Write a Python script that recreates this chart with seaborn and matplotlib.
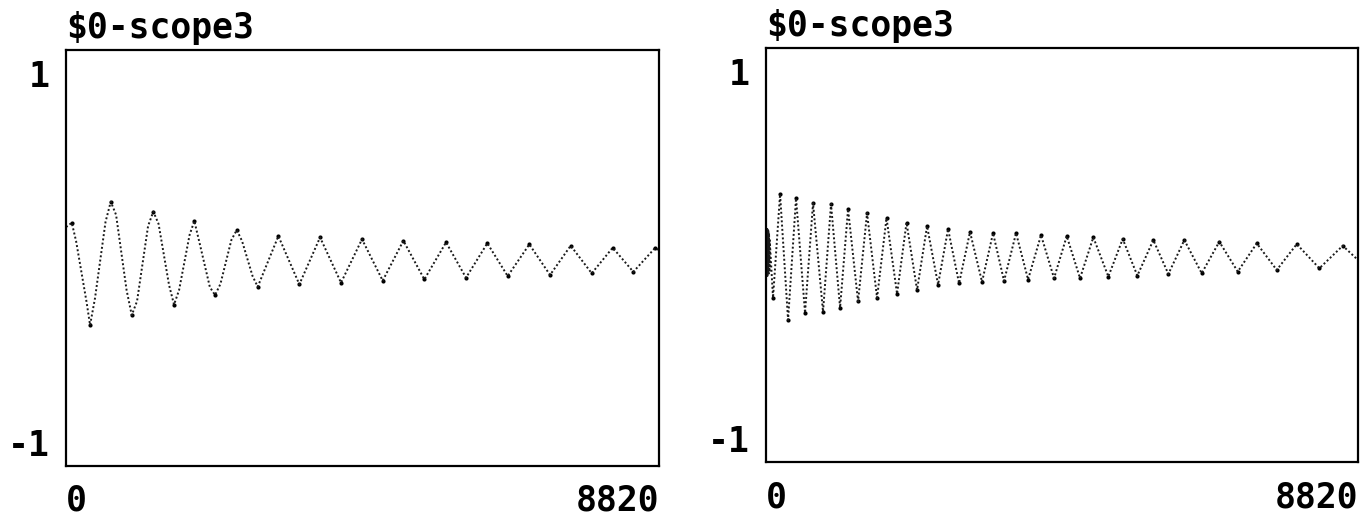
import matplotlib
matplotlib.use("Agg")
import matplotlib.pyplot as plt
import seaborn as sns
import pandas as pd
import numpy as np

# ---- data (trace points of each scope) ----
x_ticks = [0, 8820]
x_tick_labels = ["0", "8820"]
y_ticks = [1, -1]
y_tick_labels = ["1", "-1"]
titles = ["$0-scope3", "$0-scope3"]

left_samples = [0, 85, 149, 305, 357, 431, 587, 665, 744, 900, 977, 1056, 1220,
                1298, 1376, 1532, 1606, 1681, 1837, 1908, 1986, 2139, 2216,
                2296, 2459, 2539, 2618, 2774, 2851, 3158, 3470, 3778, 4090,
                4402, 4710, 5017, 5329, 5652, 5949, 6266, 6569, 6891, 7199,
                7506, 7819, 8131, 8438, 8760, 8820]
left_amps = [0.167, 0.19, 0.091, -0.240, -0.365, -0.218, 0.195, 0.305, 0.233,
             -0.175, -0.311, -0.235, 0.173, 0.251, 0.184, -0.148, -0.254,
             -0.175, 0.124, 0.200, 0.080, -0.159, -0.202, -0.142, 0.097,
             0.151, 0.091, -0.099, -0.157, 0.118, -0.144, 0.111, -0.135,
             0.101, -0.124, 0.093, -0.117, 0.084, -0.108, 0.079, -0.099,
             0.073, -0.093, 0.066, -0.084, 0.055, -0.076, 0.053, 0.042]

right_samples = [0, 5, 10, 15, 20, 25, 30, 35, 40, 45, 50, 55, 104, 209, 328,
                 447, 581, 700, 849, 968, 1103, 1222, 1371, 1505, 1654, 1795,
                 1952, 2093, 2250, 2399, 2563, 2712, 2876, 3039, 3218, 3382,
                 3546, 3725, 3904, 4097, 4291, 4480, 4678, 4876, 5100, 5314,
                 5532, 5770, 5994, 6232, 6491, 6753, 7028, 7311, 7609, 7907,
                 8244, 8592, 8820]
right_amps = [0.018, 0.148, -0.113, 0.148, -0.113, 0.140, -0.105, 0.137, -0.100,
              0.120, -0.091, 0.083, -0.232, 0.333, -0.352, 0.311, -0.314, 0.284,
              -0.308, 0.279, -0.286, 0.252, -0.251, 0.230, -0.232, 0.203,
              -0.210, 0.178, -0.189, 0.159, -0.160, 0.143, -0.153, 0.127,
              -0.145, 0.121, -0.140, 0.121, -0.132, 0.110, -0.125, 0.105,
              -0.125, 0.098, -0.116, 0.089, -0.111, 0.083, -0.102, 0.083,
              -0.098, 0.074, -0.089, 0.065, -0.080, 0.061, -0.071, 0.052,
              -0.026]

y_lim = (-1.128, 1.128)

sns.set_theme(style="white")
plt.rcParams["font.family"] = ["DejaVu Sans Mono", "DejaVu Sans"]
plt.rcParams["font.weight"] = "bold"

fig = plt.figure(figsize=(13.65, 5.17), dpi=100)
ax_l = fig.add_axes([0.0484, 0.0993, 0.4344, 0.804])
ax_r = fig.add_axes([0.5612, 0.1058, 0.4337, 0.8008])

panels = [
    (ax_l, pd.DataFrame({"sample": left_samples, "amp": left_amps}), titles[0]),
    (ax_r, pd.DataFrame({"sample": right_samples, "amp": right_amps}), titles[1]),
]

for ax, df, title in panels:
    sns.lineplot(data=df, x="sample", y="amp", ax=ax, color="#1a1a1a",
                 linewidth=1.4, linestyle=(0, (1, 1.2)), estimator=None,
                 sort=False)
    a = df["amp"].to_numpy()
    is_ext = np.zeros(len(a), dtype=bool)
    is_ext[1:-1] = ((a[1:-1] > a[:-2]) & (a[1:-1] > a[2:])) | \
                   ((a[1:-1] < a[:-2]) & (a[1:-1] < a[2:]))
    ext = df[is_ext & (df["sample"] > 60)]
    sns.scatterplot(data=ext, x="sample", y="amp", ax=ax, color="black",
                    s=9, linewidth=0, marker="o", legend=False)
    ax.set_xlim(x_ticks[0], x_ticks[-1])
    ax.set_ylim(*y_lim)
    ax.set_xlabel("")
    ax.set_ylabel("")
    ax.set_xticks(x_ticks)
    ax.set_xticklabels(x_tick_labels, fontsize=25, fontweight="bold",
                       color="black")
    ax.set_yticks(y_ticks)
    ax.set_yticklabels(y_tick_labels, fontsize=25, fontweight="bold",
                       color="black")
    xl = ax.get_xticklabels()
    xl[0].set_horizontalalignment("left")
    xl[-1].set_horizontalalignment("right")
    ax.tick_params(axis="x", length=0, pad=13)
    ax.tick_params(axis="y", length=0, pad=12)
    for s in ax.spines.values():
        s.set_visible(True)
        s.set_color("black")
        s.set_linewidth(1.6)
    ax.grid(False)
    ax.annotate(title, xy=(0, 1), xycoords="axes fraction",
                xytext=(0, 8.5), textcoords="offset points",
                ha="left", va="baseline", fontsize=25, fontweight="bold",
                color="black", annotation_clip=False)

fig.savefig("out.png", dpi=100, facecolor="white")
